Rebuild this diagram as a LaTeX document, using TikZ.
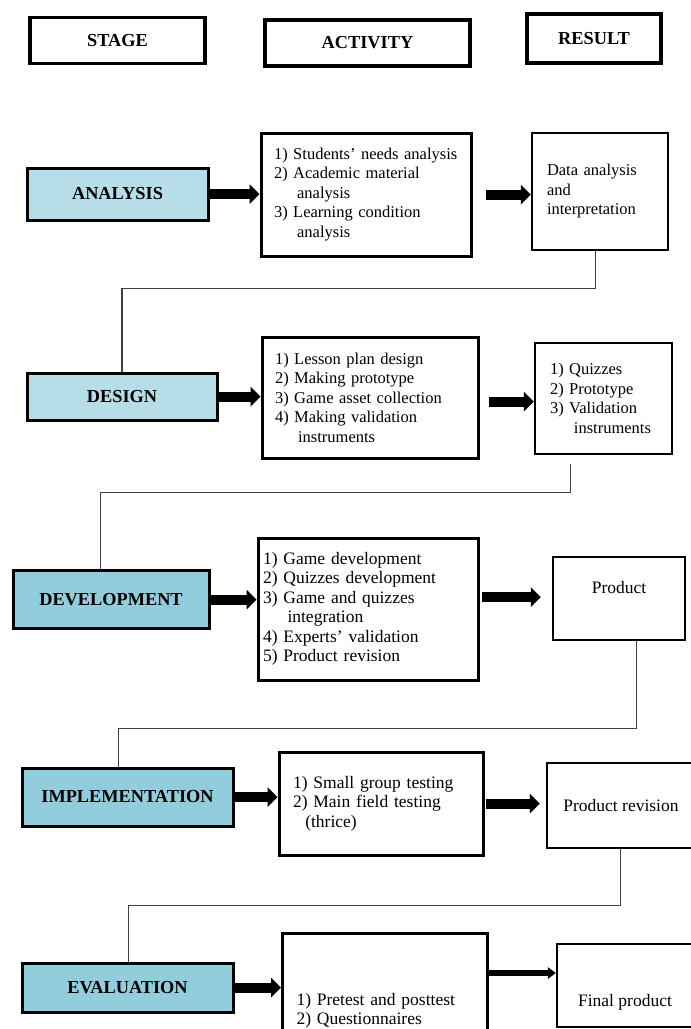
\documentclass[tikz,border=0pt]{standalone}
\usepackage{fontspec}
\setmainfont{Liberation Serif}
\usetikzlibrary{arrows.meta}

\definecolor{stagepale}{RGB}{183,222,232}
\definecolor{stagedeep}{RGB}{146,205,221}

\tikzset{
  headbox/.style={draw, line width=3.5pt, font=\fontsize{18.3}{22}\selectfont\bfseries},
  stagebox/.style={draw, line width=3pt, font=\fontsize{18.3}{22}\selectfont\bfseries},
  actbox/.style={draw, line width=3pt, align=left, inner ysep=0pt},
  resbox/.style={draw, line width=2.5pt, inner ysep=0pt},
  upperrow/.style={font=\fontsize{16.5}{19.5}\selectfont},
  lowerrow/.style={font=\fontsize{17.5}{19.5}\selectfont},
  link/.style={line width=1.3pt, black!75},
  push/.style={line width=10pt, -{Triangle[length=10pt,width=20pt,line width=0pt]}},
  thinpush/.style={line width=5.5pt, -{Triangle[length=8pt,width=12pt,line width=0pt]}}
}

\begin{document}
\begin{tikzpicture}[x=1pt, y=-1pt]
\useasboundingbox (0,0) rectangle (691,1029);

\node (hstage) at (117.5,40.5) [headbox, minimum width=175pt, minimum height=46pt] {STAGE};
\node (hact) at (367.5,43) [headbox, minimum width=205pt, minimum height=46pt] {ACTIVITY};
\node (hres) at (594,38.5) [headbox, minimum width=134pt, minimum height=49pt] {RESULT};

\node (ana) at (117.5,194) [stagebox, fill=stagepale, minimum width=181pt, minimum height=52pt] {ANALYSIS};
\node (des) at (122,396.5) [stagebox, fill=stagepale, minimum width=190pt, minimum height=47pt] {DESIGN};
\node (dev) at (111,599.5) [stagebox, fill=stagedeep, minimum width=196pt, minimum height=58pt] {DEVELOPMENT};
\node (imp) at (127.5,797) [stagebox, fill=stagedeep, minimum width=211pt, minimum height=58pt] {IMPLEMENTATION};
\node (eva) at (127.5,987.5) [stagebox, fill=stagedeep, minimum width=211pt, minimum height=49pt] {EVALUATION};

\node (act1) at (366,194.5) [actbox, upperrow, inner xsep=13pt, text width=184pt, minimum height=123pt]
  {1) Students' needs analysis\\2) Academic material\\\hspace*{1.4em}analysis\\3) Learning condition\\\hspace*{1.4em}analysis};
\node (act2) at (370,397.5) [actbox, upperrow, inner xsep=13pt, text width=190pt, minimum height=121pt]
  {1) Lesson plan design\\2) Making prototype\\3) Game asset collection\\4) Making validation\\\hspace*{1.4em}instruments};
\node (act3) at (368,609) [actbox, lowerrow, inner xsep=5pt, text width=210pt, minimum height=142pt]
  {1) Game development\\2) Quizzes development\\3) Game and quizzes\\\hspace*{1.4em}integration\\4) Experts' validation\\5) Product revision};
\node (act4) at (381,803.5) [actbox, lowerrow, inner xsep=14pt, text width=176pt, minimum height=103pt]
  {1) Small group testing\\2) Main field testing\\\hspace*{0.7em}(thrice)};
\node (act5) at (385,1011) [actbox, lowerrow, inner xsep=14pt, text width=177pt, minimum height=156pt]
  {1) Pretest and posttest\\2) Questionnaires};

\node (res1) at (600,191.5) [resbox, upperrow, align=left, inner xsep=15pt, text width=106pt, minimum height=117pt]
  {Data analysis\\and\\interpretation};
\node (res2) at (603.5,398.5) [resbox, upperrow, align=left, inner xsep=15pt, text width=107pt, minimum height=111pt]
  {1) Quizzes\\2) Prototype\\3) Validation\\\hspace*{1.45em}instruments};
\node (res3) at (619,598.5) [resbox, lowerrow, text height=12pt, text depth=22pt, minimum width=132pt, minimum height=83pt] {Product};
\node (res4) at (621,805.5) [resbox, lowerrow, minimum width=148pt, minimum height=85pt] {Product revision};
\node (res5) at (625,985.5) [resbox, lowerrow, text height=46pt, text depth=4pt, minimum width=136pt, minimum height=83pt] {Final product};

\draw [push] (ana.east) -- (ana.east -| act1.west);
\coordinate (r1) at ([xshift=13pt]act1.east);
\draw [push] (r1) -- (r1 -| res1.west);

\draw [push] (des.east) -- (des.east -| act2.west);
\coordinate (r2) at ([xshift=9pt, yshift=-4pt]act2.east);
\draw [push] (r2) -- (r2 -| res2.west);

\draw [push] (dev.east) -- (dev.east -| act3.west);
\coordinate (r3) at ([xshift=2pt, yshift=12pt]act3.east);
\draw [push, shorten >=11pt] (r3) -- (r3 -| res3.west);

\draw [push] (imp.east) -- (imp.east -| act4.west);
\coordinate (r4) at ([xshift=1pt]act4.east);
\draw [push, shorten >=6pt] (r4) -- (r4 -| res4.west);

\draw [push] (eva.east) -- (eva.east -| act5.west);
\coordinate (r5) at ([yshift=38pt]act5.east);
\draw [thinpush] (r5) -- (r5 -| res5.west);

\draw [link] ([xshift=65pt]res1.south west) -- ++(0,37) -| (des.north);
\draw [link, shorten <=9pt] ([xshift=37pt]res2.south west) -- ++(0,37) -| ([xshift=89pt]dev.north west);
\draw [link] ([xshift=85pt]res3.south west) -- ++(0,87) -| ([xshift=98pt]imp.north west);
\draw [link] ([xshift=75pt]res4.south west) -- ++(0,56) -| ([xshift=108pt]eva.north west);
\end{tikzpicture}
\end{document}
